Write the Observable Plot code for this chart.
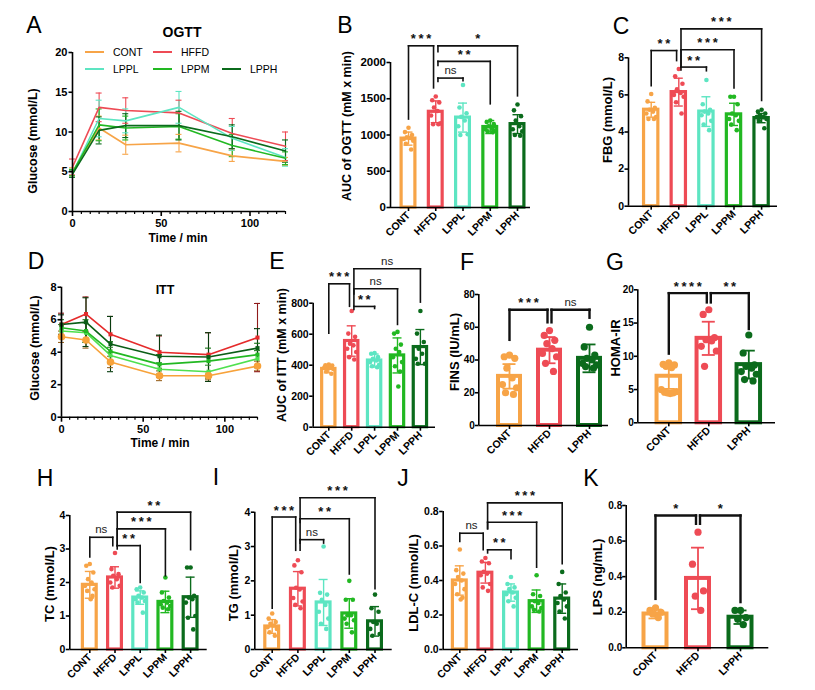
<!DOCTYPE html>
<html><head><meta charset="utf-8">
<script src="https://cdn.jsdelivr.net/npm/d3@7"></script>
<script src="https://cdn.jsdelivr.net/npm/@observablehq/plot@0.6"></script>
<style>
body{margin:0;background:#fff;}
#fig{position:relative;width:815px;height:690px;overflow:hidden;font-family:"Liberation Sans",Arial,sans-serif;color:#000;}
.abs{position:absolute;white-space:nowrap;line-height:1;}
.c{transform:translate(-50%,-50%);}
.r{transform:translate(-50%,-50%) rotate(-90deg);}
#fig svg{position:absolute;overflow:visible;}
</style></head><body><div id="fig"></div>
<script>
// ---------- data ----------
const groups = ["CONT","HFFD","LPPL","LPPM","LPPH"];
const groups3 = ["CONT","HFFD","LPPH"];
const palette = ["#F7A447","#EE4B55","#5DE5C2","#22B822","#0B6B1C"];
const ittPalette = ["#F7A23A","#E52B2B","#4FE04F","#22B822","#0B5E17"];
const times = [0,15,30,60,90,120];

const ogttMean = [
  [5.0,10.5,8.4,8.6,7.0,6.3],
  [5.6,13.1,12.7,12.4,9.8,8.2],
  [4.8,11.7,11.4,13.1,9.2,6.8],
  [4.9,10.9,10.5,10.7,8.3,6.7],
  [4.7,10.2,10.8,10.8,9.4,7.6]
];
const ogttSd = [
  [0.5,1.5,1.2,1.1,0.7,0.5],
  [1.0,1.8,1.6,1.6,1.9,1.8],
  [0.5,2.3,1.5,2.0,1.5,1.1],
  [0.4,2.0,1.5,1.6,1.4,0.8],
  [0.4,1.7,1.5,1.8,1.5,1.4]
];
const ittMean = [
  [4.95,4.75,3.4,2.55,2.55,3.15],
  [5.7,6.35,5.1,4.0,3.85,4.9],
  [5.3,5.2,3.8,2.95,2.8,3.6],
  [5.5,5.3,4.05,3.25,3.45,3.85],
  [5.7,5.85,4.5,3.75,3.7,4.25]
];
const ittSd = [
  [0.35,0.5,0.35,0.3,0.25,0.3],
  [0.7,1.05,1.1,1.0,1.35,2.1],
  [0.4,0.6,0.5,0.4,0.4,0.5],
  [0.5,0.7,0.6,0.6,0.8,0.7],
  [0.6,1.5,1.7,1.3,1.5,1.2]
];

const bMean = [950,1320,1240,1110,1150];
const bSd = [90,150,200,90,130];
const bPts = [
  [1100,1040,1000,970,960,945,920,880,800],
  [1530,1480,1450,1380,1330,1270,1160,1150,1150],
  [1690,1380,1300,1250,1200,1120,1010,1000],
  [1200,1180,1150,1120,1090,1080,1060,1050,1040],
  [1420,1340,1260,1200,1120,1080,1050,1000,990]
];
const bBr = [["CONT","HFFD",2230,1220,1650,"***"],["HFFD","LPPH",2230,2150,1540,"*"],["HFFD","LPPM",2015,1960,1430,"**"],["HFFD","LPPL",1785,1740,1750,"ns"]];

const cMean = [5.2,6.15,5.1,4.95,4.75];
const cSd = [0.4,0.75,0.8,0.6,0.25];
const cPts = [
  [6.05,5.65,5.3,5.2,5.1,5.0,4.8,4.7,4.7],
  [7.4,7.0,6.6,6.3,6.1,6.0,5.9,5.6,5.0],
  [6.8,5.5,5.2,5.1,5.0,4.9,4.6,4.4,4.1],
  [5.9,5.9,5.5,5.0,4.9,4.7,4.6,4.4,4.1],
  [5.2,5.1,5.0,4.9,4.8,4.8,4.7,4.6,4.2]
];
const cBr = [["CONT","HFFD",8.39,6.5,7.85,"**"],["HFFD","LPPH",9.56,7.5,5.7,"***"],["HFFD","LPPM",8.43,7.5,6.38,"***"],["HFFD","LPPL",7.5,7.35,7.3,"**"]];

const eMean = [376,556,430,463,517];
const eSd = [25,98,42,113,113];
const ePts = [
  [405,400,398,395,390,385,375,360,345],
  [750,604,583,539,528,506,485,452,437],
  [478,474,452,441,430,420,402,393,387],
  [615,604,533,506,485,452,420,393,359,263],
  [750,604,550,506,474,441,409,409]
];
const eBr = [["CONT","HFFD",925,606,780,"***"],["HFFD","LPPH",1022,780,807,"ns"],["HFFD","LPPM",893,860,663,"ns"],["HFFD","LPPL",779,760,766,"**"]];

const fMean = [30,46,41];
const fSd = [7.5,8,8.5];
const fPts = [[43,42,41,35,29,25,23,20,19],[58,55,52,50,47,44,42,38,33],[60,48,43,41,40,38,37,36,35]];
const fBr = [["CONT","HFFD",70.7,52.3,63,"***"],["HFFD","LPPH",70.7,63,65.8,"ns"]];

const gMean = [7.0,12.7,8.75];
const gSd = [1.9,2.5,2.1];
const gPts = [[9.0,8.8,8.7,8.5,8.3,5.0,4.7,4.6,4.5,4.4,4.5],[17.0,16.3,12.8,12.5,12.3,11.5,10.8,8.5],[13.2,10.5,8.7,8.5,8.2,7.7,7.3,6.5,6.3]];
const gBr = [["CONT","HFFD",19.5,10.4,18.1,"****"],["HFFD","LPPH",19.5,18.1,14.1,"**"]];

const hMean = [1.93,2.15,1.55,1.42,1.56];
const hSd = [0.4,0.32,0.2,0.32,0.6];
const hPts = [[2.55,2.5,2.3,2.1,2.0,1.9,1.8,1.75,1.6,1.5],[2.88,2.4,2.25,2.2,2.1,2.0,1.9,1.85],[1.85,1.8,1.7,1.6,1.55,1.5,1.45,1.4,1.1],[2.15,1.7,1.55,1.45,1.4,1.35,1.3,1.25,1.2],[2.45,2.45,1.6,1.55,1.5,1.4,1.0,0.95,0.6]];
const hBr = [["CONT","HFFD",3.35,2.76,3.1,"ns"],["HFFD","LPPL",3.1,3.0,2.0,"**"],["HFFD","LPPM",3.6,3.1,2.2,"***"],["HFFD","LPPH",4.1,3.1,2.98,"**"]];

const iMean = [0.67,1.77,1.37,1.05,0.82];
const iSd = [0.2,0.5,0.67,0.43,0.43];
const iPts = [[1.05,0.9,0.8,0.75,0.7,0.65,0.6,0.5,0.4],[2.6,2.45,2.25,1.8,1.75,1.5,1.4,1.3,1.2],[3.0,1.65,1.6,1.45,1.3,1.1,0.9,0.75,0.6],[2.0,1.45,1.45,1.0,1.0,0.9,0.85,0.75,0.5],[1.6,1.2,1.1,0.8,0.75,0.6,0.45,0.4]];
const iBr = [["CONT","HFFD",3.86,1.2,2.89,"***"],["HFFD","LPPH",4.42,2.89,1.77,"***"],["HFFD","LPPM",3.81,3.7,2.2,"**"],["HFFD","LPPL",3.2,3.1,3.1,"ns"]];

const jMean = [0.40,0.445,0.33,0.28,0.295];
const jSd = [0.085,0.06,0.05,0.065,0.085];
const jPts = [[0.58,0.46,0.44,0.42,0.40,0.38,0.35,0.32,0.30,0.29],[0.53,0.51,0.50,0.45,0.44,0.43,0.38,0.36,0.34],[0.42,0.38,0.36,0.35,0.33,0.32,0.30,0.28,0.25],[0.43,0.32,0.31,0.28,0.27,0.25,0.24,0.23,0.22],[0.45,0.38,0.33,0.31,0.29,0.27,0.25,0.22,0.18]];
const jBr = [["CONT","HFFD",0.674,0.626,0.578,"ns"],["HFFD","LPPL",0.578,0.56,0.526,"**"],["HFFD","LPPM",0.738,0.70,0.477,"***"],["HFFD","LPPH",0.85,0.70,0.497,"***"]];

const kMean = [0.19,0.39,0.172];
const kSd = [0.025,0.173,0.038];
const kPts = [[0.225,0.21,0.20,0.19,0.17],[0.65,0.47,0.32,0.29,0.21],[0.21,0.21,0.17,0.16,0.13]];
const kBr = [["CONT","HFFD",0.744,0.275,0.697,"*"],["HFFD","LPPH",0.744,0.697,0.257,"*"]];

// ---------- helpers ----------
const colorOf = Object.fromEntries(groups.map((g,i)=>[g,palette[i]]));
const fig = document.getElementById("fig");
const FONT = '"Liberation Sans", Arial, sans-serif';
const jit = [0,-0.6,0.6,-0.3,0.3,-0.8,0.8,-0.45,0.45,0.15,-0.15];
const STYLE = {fontFamily: FONT, fontSize: "11px", fontWeight: "bold", background: "transparent", overflow: "visible", color: "black"};

function place(svg, box){ svg.style.left = box.x+"px"; svg.style.top = box.y+"px"; fig.appendChild(svg); }
function label(text, x, y, o = {}){
  const d = document.createElement("div");
  d.className = "abs " + (o.rot ? "r" : "c");
  d.style.left = x+"px"; d.style.top = y+"px";
  d.style.fontSize = (o.size || 13)+"px"; d.style.fontWeight = o.weight || "bold";
  d.textContent = text; fig.appendChild(d);
}
function margins(box, g){
  return {width: box.w, height: box.h, marginLeft: g.axisX - box.x, marginRight: box.x + box.w - g.xEnd,
          marginTop: g.yTop - box.y, marginBottom: box.y + box.h - g.y0};
}
const stars = s => s === "ns" ? s : s.split("").join("\u2009");

function bracketMarks(br, cats, off, sw){
  const segs = [], labs = [];
  br.forEach(([a,b,y,ya,yb,lab]) => {
    let ia = cats.indexOf(a), ib = cats.indexOf(b);
    const ia0 = ia, ib0 = ib;
    if (a === "HFFD") ia += ib0 > ia0 ? off : -off;
    if (b === "HFFD") ib += ia0 > ib0 ? off : -off;
    segs.push({x1: ia, y1: y, x2: ib, y2: y}, {x1: ia, y1: y, x2: ia, y2: ya}, {x1: ib, y1: y, x2: ib, y2: yb});
    labs.push({x: (ia+ib)/2, y, lab});
  });
  return [
    Plot.link(segs, {x1: "x1", y1: "y1", x2: "x2", y2: "y2", stroke: "#111", strokeWidth: sw, strokeLinecap: "square"}),
    Plot.text(labs.filter(d => d.lab !== "ns"), {x: "x", y: "y", text: d => stars(d.lab), lineAnchor: "bottom", dy: -2.5, fontSize: 13, fontWeight: "bold", fill: "#111"}),
    Plot.text(labs.filter(d => d.lab === "ns"), {x: "x", y: "y", text: "lab", lineAnchor: "bottom", dy: -4, fontSize: 11.5, fontWeight: "normal", fill: "#222"})
  ];
}

function barPanel(c){
  const {box, g, cats, mean, sd, pts, br, yMax, yTicks, fmt} = c;
  const n = cats.length;
  const padL = (g.c0 - g.axisX) / g.step;
  const padR = (g.xEnd - g.c0 - g.step*(n-1)) / g.step;
  const hw = (g.barW - g.sw) / 2 / g.step, cw = g.cap / 2 / g.step;
  const bars = cats.map((k,i) => ({i, m: mean[i], s: sd[i], col: colorOf[k]}));
  const dots = cats.flatMap((k,i) => pts[i].map((v,j) => ({x: i + jit[j % jit.length]*hw*g.spread, y: v, col: colorOf[k]})));
  const svg = Plot.plot({
    ...margins(box, g),
    style: STYLE,
    x: {domain: [-padL, n-1+padR]},
    y: {domain: [0, yMax]},
    marks: [
      Plot.rectY(bars, {x1: d => d.i-hw, x2: d => d.i+hw, y1: 0, y2: "m", fill: "white", stroke: "col", strokeWidth: g.sw}),
      Plot.ruleX(bars, {x: "i", y1: d => d.m-d.s, y2: d => d.m+d.s, stroke: "col", strokeWidth: g.ew}),
      Plot.ruleY(bars, {y: d => d.m+d.s, x1: d => d.i-cw, x2: d => d.i+cw, stroke: "col", strokeWidth: g.ew}),
      Plot.ruleY(bars, {y: d => d.m-d.s, x1: d => d.i-cw, x2: d => d.i+cw, stroke: "col", strokeWidth: g.ew}),
      Plot.dot(dots, {x: "x", y: "y", r: g.r, fill: "col", stroke: "none"}),
      Plot.ruleY([0], {strokeWidth: 1.6}),
      Plot.ruleX([-padL], {y1: 0, y2: yMax, strokeWidth: 1.6}),
      Plot.axisY({ticks: yTicks, tickFormat: fmt, tickSize: 3.5, strokeWidth: 1.6, tickPadding: g.tp, label: null, fontSize: g.fs, fontWeight: "bold"}),
      Plot.axisX({ticks: d3.range(n), tickFormat: i => cats[i], tickRotate: -45, tickSize: 4, strokeWidth: 1.6, tickPadding: 2, label: null, fontSize: 10.5, fontWeight: "bold"}),
      ...bracketMarks(br, cats, g.hub / g.step, g.bw)
    ]
  });
  place(svg, box);
}

function linePanel(c){
  const {box, g, means, sds, cols, ecols, yMax, yTicks} = c;
  const rows = [];
  groups.forEach((grp, gi) => times.forEach((t, ti) => rows.push({grp, t, v: means[gi][ti], s: sds[gi][ti], col: cols[gi], ecol: ecols[gi]})));
  const ppm = (g.xEnd - g.axisX) / 120;
  const cw = g.cap / 2 / ppm;
  const marks = [
    Plot.ruleX(rows, {x: "t", y1: d => d.v-d.s, y2: d => d.v+d.s, stroke: "ecol", strokeWidth: g.ew}),
    Plot.ruleY(rows, {y: d => d.v+d.s, x1: d => d.t-cw, x2: d => d.t+cw, stroke: "ecol", strokeWidth: g.ew}),
    Plot.ruleY(rows, {y: d => d.v-d.s, x1: d => d.t-cw, x2: d => d.t+cw, stroke: "ecol", strokeWidth: g.ew}),
    Plot.line(rows, {x: "t", y: "v", z: "grp", stroke: "col", strokeWidth: 1.6}),
  ];
  if (c.markers) {
    marks.push(Plot.dot(rows.filter(d => d.grp !== "CONT"), {x: "t", y: "v", r: 2.3, symbol: "square", fill: "col"}));
    marks.push(Plot.dot(rows.filter(d => d.grp === "CONT"), {x: "t", y: "v", r: 3.8, fill: "col"}));
  }
  marks.push(
    Plot.ruleY([0], {strokeWidth: 1.6}),
    Plot.ruleX([0], {y1: 0, y2: yMax, strokeWidth: 1.6}),
    Plot.axisY({ticks: yTicks, tickFormat: d3.format("d"), tickSize: 3.5, strokeWidth: 1.6, tickPadding: 1.5, label: null, fontSize: 11, fontWeight: "bold"}),
    Plot.axisX({ticks: [0,50,100], tickFormat: d3.format("d"), tickSize: 5, strokeWidth: 1.6, tickPadding: 3, label: null, fontSize: 11, fontWeight: "bold"}),
    Plot.axisX({ticks: d3.range(5,121,5).filter(t => t % 50), tickFormat: () => "", tickSize: 3, strokeWidth: 1.2, label: null})
  );
  const svg = Plot.plot({...margins(box, g), style: STYLE, x: {domain: [0,120]}, y: {domain: [0, yMax]}, marks});
  place(svg, box);
}

// ---------- panels ----------
linePanel({box: {x:20,y:40,w:275,h:200}, g: {axisX:72, y0:211, yTop:52, xEnd:285, cap:6, ew:1.1},
  means: ogttMean, sds: ogttSd, cols: palette, ecols: palette, yMax: 20, yTicks: [0,5,10,15,20], markers: false});
linePanel({box: {x:15,y:275,w:255,h:180}, g: {axisX:61, y0:416.7, yTop:286.7, xEnd:257, cap:6, ew:1.1},
  means: ittMean, sds: ittSd, cols: ittPalette, ecols: ittPalette.map(c => d3.color(c).darker(1.3).formatHex()), yMax: 8, yTicks: [0,2,4,6,8], markers: true});

const small = {barW:17, sw:3.2, ew:1.4, cap:9, r:2.3, spread:0.85, fs:10.5, tp:1, hub:2.2, bw:1.6};
const wide = {sw:4, ew:1.8, cap:13, r:3.6, spread:0.8, fs:10, tp:0.5, hub:2, bw:2.4};
const d = d3.format("d"), f1 = d3.format(".1f");

barPanel({box:{x:345,y:10,w:200,h:240}, g:{...small, axisX:390, y0:207, yTop:62, c0:408, step:27.25, xEnd:530, fs:11.5},
  cats: groups, mean: bMean, sd: bSd, pts: bPts, br: bBr, yMax: 2000, yTicks: [0,500,1000,1500,2000], fmt: d});
barPanel({box:{x:590,y:5,w:210,h:245}, g:{...small, axisX:628, y0:205.7, yTop:57.3, c0:650.7, step:27.6, xEnd:777, barW:17.5},
  cats: groups, mean: cMean, sd: cSd, pts: cPts, br: cBr, yMax: 8, yTicks: [0,2,4,6,8], fmt: d});
barPanel({box:{x:280,y:250,w:165,h:220}, g:{...small, axisX:312.7, y0:426.7, yTop:302.7, c0:328.3, step:22.9, xEnd:435, barW:16.5},
  cats: groups, mean: eMean, sd: eSd, pts: ePts, br: eBr, yMax: 800, yTicks: [0,200,400,600,800], fmt: d});
barPanel({box:{x:450,y:250,w:165,h:220}, g:{...wide, axisX:478.3, y0:425, yTop:294, c0:509, step:40, xEnd:608, barW:26},
  cats: groups3, mean: fMean, sd: fSd, pts: fPts, br: fBr, yMax: 80, yTicks: [0,20,40,60,80], fmt: d});
barPanel({box:{x:612,y:250,w:178,h:220}, g:{...wide, axisX:637.3, y0:422.3, yTop:289.3, c0:668.3, step:40, xEnd:775, barW:27.5},
  cats: groups3, mean: gMean, sd: gSd, pts: gPts, br: gBr, yMax: 20, yTicks: [0,5,10,15,20], fmt: d});
barPanel({box:{x:20,y:470,w:195,h:220}, g:{...small, axisX:69.3, y0:649, yTop:515, c0:89.3, step:25.2, xEnd:206.7},
  cats: groups, mean: hMean, sd: hSd, pts: hPts, br: hBr, yMax: 4, yTicks: [0,1,2,3,4], fmt: d});
barPanel({box:{x:222,y:470,w:176,h:220}, g:{...small, axisX:254.3, y0:649, yTop:511.7, c0:271.7, step:25.7, xEnd:391.7},
  cats: groups, mean: iMean, sd: iSd, pts: iPts, br: iBr, yMax: 4, yTicks: [0,1,2,3,4], fmt: d});
barPanel({box:{x:405,y:470,w:180,h:220}, g:{...small, axisX:442.7, y0:649, yTop:511, c0:459.3, step:25.6, xEnd:578},
  cats: groups, mean: jMean, sd: jSd, pts: jPts, br: jBr, yMax: 0.8, yTicks: [0,0.2,0.4,0.6,0.8], fmt: f1});
barPanel({box:{x:595,y:470,w:200,h:220}, g:{...wide, axisX:625.7, y0:647.3, yTop:505, c0:655, step:42.5, xEnd:768.3, barW:27},
  cats: groups3, mean: kMean, sd: kSd, pts: kPts, br: kBr, yMax: 0.8, yTicks: [0,0.2,0.4,0.6,0.8], fmt: f1});

// ---------- text ----------
[["A",34,25],["B",345,25],["C",621,26],["D",36,261],["E",277,261],["F",467,262],["G",615,262],["H",45,478],["I",216,477],["J",403,478],["K",591,478]]
  .forEach(([t,x,y]) => label(t, x, y, {size: 23, weight: "normal"}));
label("OGTT", 182, 32, {size: 14});
label("ITT", 165, 290, {size: 12.5});
label("Time / min", 178, 238, {size: 12});
label("Time / min", 160, 443, {size: 12});
label("Glucose (mmol/L)", 33, 141, {rot: true, size: 12.5});
label("Glucose (mmol/L)", 35, 348, {rot: true, size: 12.5});
label("AUC of OGTT (mM x min)", 347, 126, {rot: true, size: 12.5});
label("FBG (mmol/L)", 607, 120, {rot: true});
label("AUC of ITT (mM x min)", 282, 355, {rot: true, size: 12.5});
label("FINS (IU/mL)", 454, 352, {rot: true});
label("HOMA-IR", 615, 348, {rot: true});
label("TC (mmol/L)", 49, 584, {rot: true});
label("TG (mmol/L)", 233, 583, {rot: true});
label("LDL-C (mmol/L)", 413, 583, {rot: true});
label("LPS (ng/mL)", 597, 577, {rot: true});

// legend (panel A)
[[0,85,52],[1,153,52],[2,85,69],[3,153,69],[4,222,69]].forEach(([gi,x,y]) => {
  const s = document.createElement("div");
  s.className = "abs";
  s.style.cssText = `left:${x}px;top:${y-1}px;width:19px;height:2px;background:${palette[gi]};`;
  fig.appendChild(s);
  const t = document.createElement("div");
  t.className = "abs";
  t.style.cssText = `left:${x+28}px;top:${y}px;transform:translateY(-50%);font-size:10.5px;`;
  t.textContent = groups[gi];
  fig.appendChild(t);
});
</script></body></html>
